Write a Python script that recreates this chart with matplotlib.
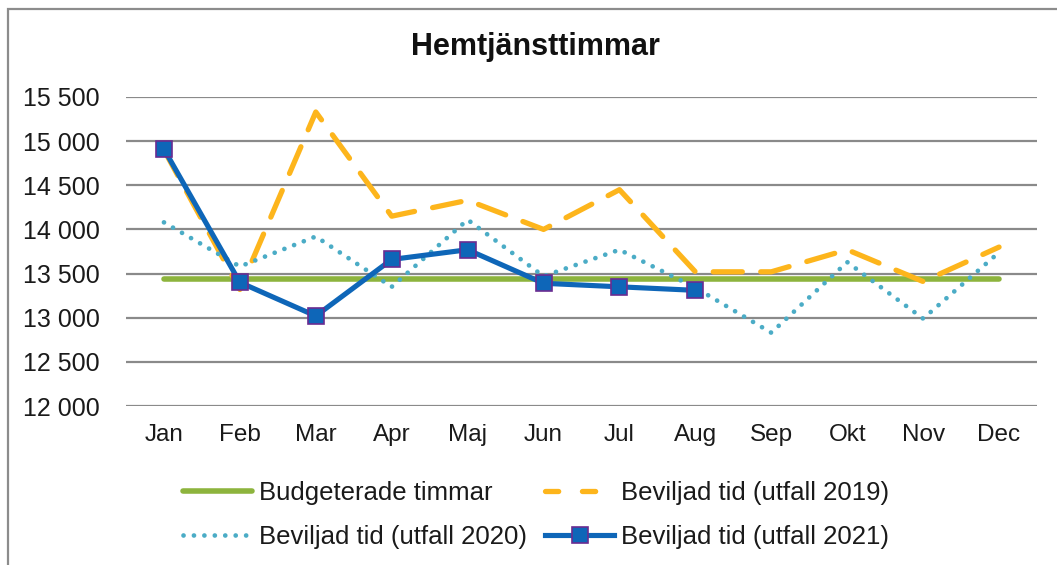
import numpy as np
import matplotlib
matplotlib.use("Agg")
import matplotlib.pyplot as plt
import matplotlib.ticker as ticker
from matplotlib.lines import Line2D
from matplotlib.patches import Rectangle

plt.rcParams['font.family'] = ['Liberation Sans', 'DejaVu Sans']

months = ["Jan", "Feb", "Mar", "Apr", "Maj", "Jun", "Jul", "Aug", "Sep", "Okt", "Nov", "Dec"]
budget = [13440] * 12
utfall_2019 = [14900, 13320, 15330, 14150, 14330, 14000, 14450, 13520, 13520, 13770, 13410, 13800]
utfall_2020 = [14080, 13580, 13920, 13350, 14110, 13470, 13770, 13340, 12830, 13630, 12990, 13740]
utfall_2021 = [14910, 13400, 13020, 13660, 13770, 13390, 13350, 13310]
yticks = [12000, 12500, 13000, 13500, 14000, 14500, 15000, 15500]

GREEN, ORANGE, TEAL, BLUE, PURPLE = '#8DB43D', '#FDB51C', '#4BACC6', '#0E66B8', '#6A2C91'

W, H = 1057, 565
fig = plt.figure(figsize=(W / 100, H / 100), dpi=100)
fig.patch.set_facecolor('white')

# outer chart frame, runs off the right and bottom edge
fig.patches.append(Rectangle((8 / W, -0.1), 1.2, 1 - 9 / H + 0.1, transform=fig.transFigure,
                             fill=False, edgecolor='#8c8c8c', lw=1.6))

ax = fig.add_axes([126 / W, 159 / H, 911 / W, 309 / H])
x = np.arange(len(months))

ax.plot(x, budget, color=GREEN, lw=4, solid_capstyle='round', zorder=3)
ax.plot(x, utfall_2019, color=ORANGE, lw=3.8, dashes=(5.5, 3.5), dash_capstyle='round', zorder=3)
ax.plot(x, utfall_2020, color=TEAL, lw=3.4, dashes=(0.01, 2.2), dash_capstyle='round', zorder=3)
ax.plot(np.arange(len(utfall_2021)), utfall_2021, color=BLUE, lw=3.7, marker='s', ms=11,
        markerfacecolor=BLUE, markeredgecolor=PURPLE, markeredgewidth=1.2, zorder=4)

ax.set_xlim(-0.5, 11.5)
ax.set_ylim(12000, 15500)
ax.set_yticks(yticks)
ax.yaxis.set_major_formatter(ticker.FuncFormatter(lambda v, p: f"{int(v):,}".replace(",", " ")))
ax.set_xticks(x)
ax.set_xticklabels(months)
ax.tick_params(length=0, labelsize=17.5, colors='#1a1a1a')
ax.tick_params(axis='y', labelsize=18, pad=19)
ax.tick_params(axis='x', pad=13)
ax.grid(axis='y', color='#8a8a8a', lw=1.6)
ax.set_axisbelow(True)
for s in ax.spines.values():
    s.set_visible(False)

fig.text(535 / W, 1 - 47 / H, "Hemtjänsttimmar", ha='center', va='center',
         fontsize=22, fontweight='bold', color='#111111')

handles = [
    Line2D([], [], color=GREEN, lw=4, solid_capstyle='round'),
    Line2D([], [], color=TEAL, lw=3.4, dashes=(0.01, 2.2), dash_capstyle='round'),
    Line2D([], [], color=ORANGE, lw=3.8, dashes=(2.5, 4.5), dash_capstyle='round'),
    Line2D([], [], color=BLUE, lw=3.7, marker='s', ms=11,
           markerfacecolor=BLUE, markeredgecolor=PURPLE, markeredgewidth=1.2),
]
labels = ["Budgeterade timmar", "Beviljad tid (utfall 2020)",
          "Beviljad tid (utfall 2019)", "Beviljad tid (utfall 2021)"]
fig.legend(handles, labels, ncol=2, loc='center', bbox_to_anchor=(536 / W, 1 - 515 / H),
           frameon=False, fontsize=18.5, handlelength=2.7, handletextpad=0.27,
           columnspacing=0.7, labelspacing=0.79, labelcolor='#1a1a1a')

fig.savefig("out.png", dpi=100)
